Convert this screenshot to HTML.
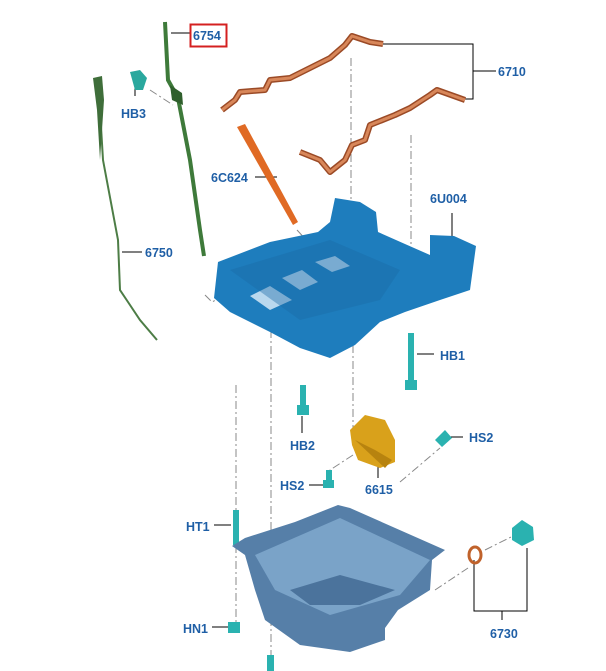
<!DOCTYPE html>
<html><head><meta charset="utf-8"><style>
html,body{margin:0;padding:0;background:#fff;}
svg{display:block;}
text{font-family:"Liberation Sans",sans-serif;font-weight:bold;font-size:12.5px;fill:#1f5fa6;}
</style></head><body>
<svg width="606" height="671" viewBox="0 0 606 671" xmlns="http://www.w3.org/2000/svg">
<g stroke="#888" stroke-width="1" stroke-dasharray="8,3,2,3" fill="none">
<line x1="351" y1="58" x2="351" y2="230"/>
<line x1="411" y1="135" x2="411" y2="300"/>
<line x1="297" y1="230" x2="320" y2="255"/>
<path d="M205 295 L212 302 L270 272"/>
<line x1="236" y1="385" x2="236" y2="630"/>
<line x1="271" y1="330" x2="271" y2="660"/>
<line x1="353" y1="345" x2="353" y2="430"/>
<path d="M353 455 L330 470 L330 490"/>
<line x1="400" y1="482" x2="440" y2="448"/>
<line x1="435" y1="590" x2="468" y2="568"/>
<line x1="485" y1="550" x2="515" y2="535"/>
<line x1="150" y1="90" x2="173" y2="105"/>
</g>
<!-- leader lines -->
<g stroke="#000" stroke-width="1" fill="none">
<line x1="171" y1="33" x2="190" y2="33"/>
<path d="M383 44 L473 44 L473 99 L465 99 M473 71 L496 71"/>
<line x1="135" y1="85" x2="135" y2="96"/>
<line x1="255" y1="177" x2="277" y2="177"/>
<line x1="122" y1="252" x2="142" y2="252"/>
<line x1="452" y1="213" x2="452" y2="237"/>
<line x1="417" y1="354" x2="434" y2="354"/>
<line x1="302" y1="416" x2="302" y2="433"/>
<line x1="447" y1="437" x2="463" y2="437"/>
<line x1="309" y1="485" x2="324" y2="485"/>
<line x1="378" y1="463" x2="378" y2="478"/>
<line x1="214" y1="525" x2="231" y2="525"/>
<line x1="212" y1="627" x2="232" y2="627"/>
<path d="M474 560 L474 611 L527 611 L527 548 M502 611 L502 620"/>
</g>
<!-- gaskets -->
<g fill="none" stroke-linejoin="round">
<path d="M222 110 L235 100 L240 92 L265 90 L270 80 L290 78 L310 68 L330 58 L345 45 L352 36 L370 42 L383 44" stroke="#9b4a26" stroke-width="6"/>
<path d="M222 110 L235 100 L240 92 L265 90 L270 80 L290 78 L310 68 L330 58 L345 45 L352 36 L370 42 L383 44" stroke="#d8875a" stroke-width="3"/>
<path d="M300 152 L320 160 L330 172 L345 160 L352 145 L365 140 L370 125 L395 115 L410 108 L430 95 L437 90 L465 100" stroke="#9b4a26" stroke-width="6"/>
<path d="M300 152 L320 160 L330 172 L345 160 L352 145 L365 140 L370 125 L395 115 L410 108 L430 95 L437 90 L465 100" stroke="#d8875a" stroke-width="3"/>
</g>
<!-- 6C624 -->
<path d="M237 127 L245 124 L298 222 L293 225 Z" fill="#e06a24"/>
<!-- dipstick tube 6754 -->
<path d="M165 22 L168 80 L178 98 L190 160 L200 230 L204 256" stroke="#3e7a3a" stroke-width="4" fill="none"/>
<path d="M170 85 L182 93 L183 105 L172 100 Z" fill="#2f5f2c"/>
<!-- dipstick 6750 -->
<path d="M98 80 L100 110 L103 160 L118 240 L120 290 L140 320 L157 340" stroke="#4d7d46" stroke-width="2" fill="none"/>
<path d="M93 78 L102 76 L104 100 L100 160 L97 110 Z" fill="#3f6e3a"/>
<!-- HB3 -->
<path d="M130 72 L140 70 L147 78 L143 90 L135 90 Z" fill="#2aa89e"/>
<!-- 6U004 block -->
<path d="M218 262 L270 242 L318 232 L330 222 L335 198 L360 202 L376 212 L378 232 L405 244 L430 255 L430 235 L454 236 L476 246 L470 290 L440 300 L405 312 L380 322 L355 345 L330 358 L300 348 L270 332 L230 312 L214 298 Z" fill="#1e7dbd"/>
<path d="M250 296 L270 286 L292 300 L270 310 Z M282 278 L302 270 L318 282 L300 290 Z M315 262 L335 256 L350 266 L332 272 Z" fill="#b9d8ee"/>
<path d="M230 270 L330 240 L400 270 L380 300 L300 320 Z" fill="#1a6aa6" opacity="0.4"/>
<!-- bolts -->
<g fill="#2ab2b0">
<rect x="408" y="333" width="6" height="52"/><rect x="405" y="380" width="12" height="10"/>
<rect x="300" y="385" width="6" height="25"/><rect x="297" y="405" width="12" height="10"/>
<rect x="233" y="510" width="6" height="35"/>
<rect x="228" y="622" width="12" height="11"/>
<rect x="326" y="470" width="6" height="15"/><rect x="323" y="480" width="11" height="8"/>
<path d="M435 440 L445 430 L452 438 L442 447 Z"/>
<path d="M512 528 L522 520 L533 527 L534 540 L522 546 L512 540 Z"/>
<rect x="267" y="655" width="7" height="16"/>
</g>
<!-- 6615 pickup -->
<path d="M350 430 L365 415 L385 420 L395 440 L395 462 L380 468 L358 460 L352 445 Z" fill="#d9a11b"/>
<path d="M355 440 L375 450 L392 460 L385 468 Z" fill="#b7830f"/>
<!-- 6730 washer -->
<ellipse cx="475" cy="555" rx="6" ry="8" fill="none" stroke="#c0622b" stroke-width="3"/>
<!-- oil pan -->
<path d="M232 546 L245 538 L295 522 L338 505 L350 508 L445 550 L432 560 L430 590 L398 610 L385 628 L385 640 L350 652 L300 645 L265 620 L255 590 L245 555 Z" fill="#567fa8"/>
<path d="M255 555 L340 518 L430 560 L400 595 L330 615 L275 590 Z" fill="#7aa3c8"/>
<path d="M290 590 L340 575 L395 590 L360 605 L310 605 Z" fill="#4b739c"/>
<!-- labels -->
<rect x="190.5" y="24.5" width="36" height="22" fill="none" stroke="#d42020" stroke-width="2"/>
<text x="193" y="40">6754</text>
<text x="498" y="76">6710</text>
<text x="121" y="118">HB3</text>
<text x="211" y="182">6C624</text>
<text x="430" y="203">6U004</text>
<text x="145" y="257">6750</text>
<text x="440" y="360">HB1</text>
<text x="290" y="450">HB2</text>
<text x="469" y="442">HS2</text>
<text x="280" y="490">HS2</text>
<text x="365" y="494">6615</text>
<text x="186" y="531">HT1</text>
<text x="183" y="633">HN1</text>
<text x="490" y="638">6730</text>
</svg>
</body></html>
